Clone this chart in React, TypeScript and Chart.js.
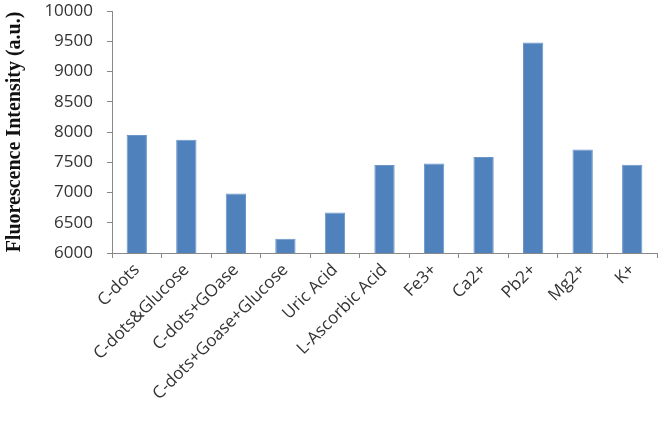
import React, { useEffect, useRef } from "react";
import { Chart, registerables } from "chart.js";

Chart.register(...registerables);

const categories = [
  "C-dots",
  "C-dots&Glucose",
  "C-dots+GOase",
  "C-dots+Goase+Glucose",
  "Uric Acid",
  "L-Ascorbic Acid",
  "Fe3+",
  "Ca2+",
  "Pb2+",
  "Mg2+",
  "K+",
];

const intensity = [7950, 7870, 6985, 6235, 6670, 7455, 7480, 7585, 9480, 7710, 7460];

const yMin = 6000;
const yMax = 10000;
const yStep = 500;
const yTitle = "Fluorescence Intensity (a.u.)";

export default function App() {
  const ref = useRef<HTMLCanvasElement | null>(null);

  useEffect(() => {
    if (!ref.current) return;
    const chart = new Chart(ref.current, {
      type: "bar",
      data: {
        labels: categories,
        datasets: [
          {
            data: intensity,
            backgroundColor: "#4f81bd",
            borderColor: "#6b95c9",
            borderWidth: 1,
            barPercentage: 0.41,
            categoryPercentage: 1,
          },
        ],
      },
      options: {
        responsive: false,
        animation: false,
        layout: { padding: { top: 11, right: 4, left: 0, bottom: 0 } },
        plugins: {
          legend: { display: false },
          tooltip: { enabled: false },
        },
        scales: {
          x: {
            grid: {
              drawOnChartArea: false,
              drawTicks: true,
              tickLength: 5,
              color: "#888888",
            },
            border: { color: "#888888", width: 1 },
            ticks: {
              minRotation: 45,
              maxRotation: 45,
              autoSkip: false,
              padding: 2,
              color: "#333333",
              font: { family: "'Open Sans'", size: 17 },
            },
            afterFit: (s: any) => {
              s.height = 168;
              s.paddingLeft = 0;
              s.paddingRight = 0;
              s.paddingTop = 0;
              s.paddingBottom = 0;
            },
          },
          y: {
            min: yMin,
            max: yMax,
            grid: {
              drawOnChartArea: false,
              drawTicks: true,
              tickLength: 5,
              color: "#888888",
            },
            border: { color: "#888888", width: 1 },
            ticks: {
              stepSize: yStep,
              padding: 14,
              color: "#333333",
              font: { family: "'Open Sans'", size: 17 },
              callback: (v: any) => String(v),
            },
            title: {
              display: true,
              text: yTitle,
              color: "#111111",
              padding: { top: 3, bottom: 0 },
              font: { family: "'Liberation Serif'", size: 20, weight: "bold" },
            },
            afterFit: (s: any) => {
              s.width = 112;
              s.paddingTop = 0;
              s.paddingBottom = 0;
            },
          },
        },
      },
    });
    return () => chart.destroy();
  }, []);

  return (
    <div style={{ position: "absolute", left: 0, top: 0, width: 661, height: 421, background: "#fff" }}>
      <canvas ref={ref} width={661} height={421} />
    </div>
  );
}
